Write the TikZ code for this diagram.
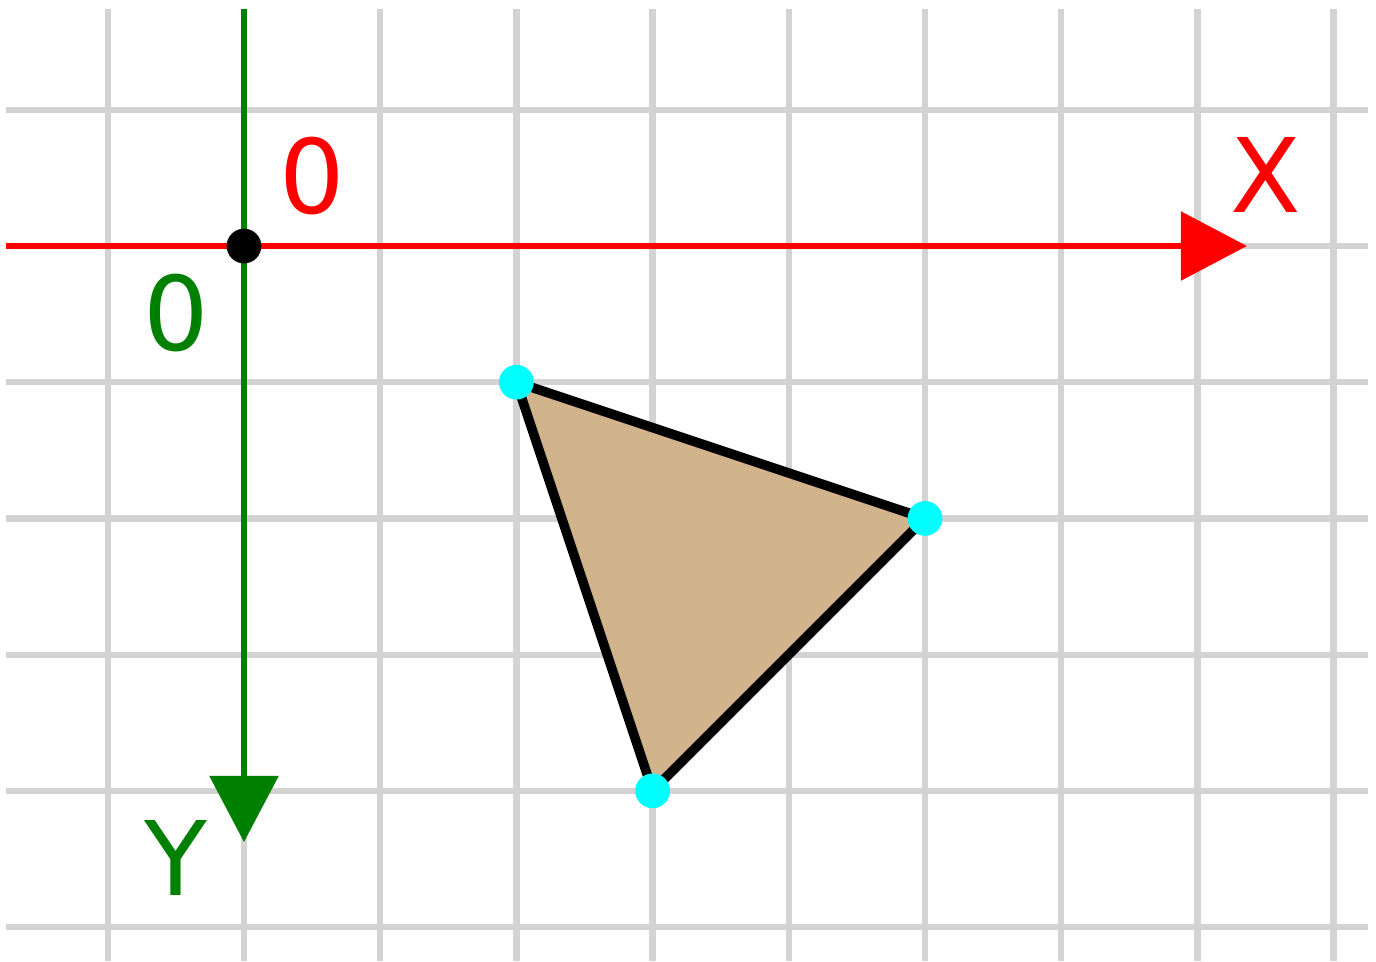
\documentclass[tikz,border=0pt]{standalone}
\usepackage{fontspec}
\setmainfont{DejaVu Sans}
\usetikzlibrary{arrows.meta}

\definecolor{gridgray}{HTML}{D3D3D3}
\definecolor{axisgreen}{HTML}{008000}
\definecolor{tanfill}{HTML}{D2B48C}
\definecolor{dotcyan}{HTML}{00FFFF}

\begin{document}
\begin{tikzpicture}[
				x=1cm, y=1cm,
				every node/.style={font=\fontsize{21.5}{24}\selectfont, inner sep=0pt},
				gridline/.style={draw=gridgray, line width=1.3pt},
				axis/.style={line width=1.1pt, -{Triangle[length=4.85mm, width=5mm]}},
				vertex/.style={circle, fill=dotcyan, minimum size=2.55mm},
				line join=round
				]
				
				\useasboundingbox (-1.7915,-5.2496) rectangle (8.3113,1.8062);
				
				% Grid
				\foreach \y in {1,0,...,-5}
				{
					\draw[gridline] (-1.747,\y) -- (8.252,\y);
				}
				\foreach \x in {-1,...,8}
				{
					\draw[gridline] (\x,1.74) -- (\x,-5.2496);
				}
				
				% Axes
				\coordinate (xstart) at (-1.747,0);
				\coordinate (xend) at (7.364,0);
				\coordinate (ystart) at (0,1.74);
				\coordinate (yend) at (0,-4.376);
				\draw[axis, red] (xstart) -- (xend);
				\draw[axis, axisgreen] (ystart) -- (yend);
				\node[circle, fill=black, minimum size=2.55mm] (origin) at (0,0) {};
				
				% Labels
				\node[text=red] (xzero) at (0.5,0.514) {0};
				\node[text=axisgreen] (yzero) at (-0.5,-0.492) {0};
				\node[text=red] (xlabel) at (7.5,0.518) {X};
				\node[text=axisgreen] (ylabel) at (-0.5,-4.49) {Y};
				
				% Triangle
				\coordinate (a) at (2,-1);
				\coordinate (b) at (5,-2);
				\coordinate (c) at (3,-4);
				\draw[line width=2pt, fill=tanfill] (a) -- (b) -- (c) -- cycle;
				\node[vertex] (va) at (a) {};
				\node[vertex] (vb) at (b) {};
				\node[vertex] (vc) at (c) {};
				
			\end{tikzpicture}
\end{document}
